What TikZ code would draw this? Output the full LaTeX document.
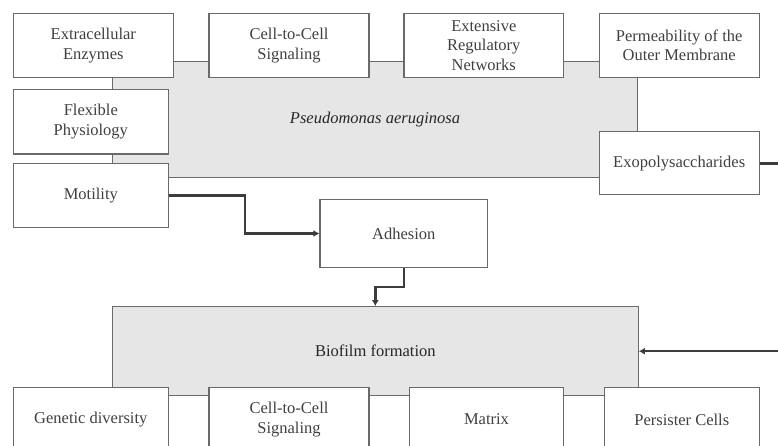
\documentclass[tikz,border=0pt]{standalone}
\usepackage{fontspec}
\setmainfont{Liberation Serif}
\usetikzlibrary{arrows.meta,calc}
\definecolor{bordc}{HTML}{6A6A6A}
\definecolor{txtc}{HTML}{404040}
\definecolor{fillg}{HTML}{E6E6E6}
\definecolor{arrc}{HTML}{3C3C3C}
\begin{document}
\begin{tikzpicture}[x=1pt,y=-1pt,
  box/.style={draw=bordc, line width=1.1pt, fill=white, text=txtc, align=center,
    font=\fontsize{16.5}{19.5}\selectfont, inner sep=0pt, minimum height=64.4pt},
  gbox/.style={draw=bordc, line width=1.1pt, fill=fillg, inner sep=0pt, text=black!85,
    font=\fontsize{16.5}{19.5}\selectfont},
  arr/.style={draw=arrc, line width=2.5pt, -{Latex[length=6pt,width=7pt]}},
  link/.style={draw=arrc, line width=2.5pt},
]
\useasboundingbox (0,0) rectangle (778,446);
\clip (0,0) rectangle (778,446);
\fill[white] (0,0) rectangle (778,446);

% grey background boxes
\node[gbox, minimum width=525.4pt, minimum height=116pt] (pa) at (375,119.7) {\itshape Pseudomonas aeruginosa};
\node[gbox, minimum width=526pt, minimum height=89pt] (bio) at (375.3,351.2) {Biofilm formation};

% top row
\node[box, minimum width=160pt] (ext) at (93.3,45.5) {Extracellular\\Enzymes};
\node[box, minimum width=160pt] (cc) at (289,45.5) {Cell-to-Cell\\Signaling};
\node[box, minimum width=159.7pt] (reg) at (483.8,45.5) {Extensive\\Regulatory\\Networks};
\node[box, minimum width=160.3pt] (perm) at (679.2,45.5) {Permeability of the\\Outer Membrane};

% left column
\node[box, minimum width=155pt, minimum height=64.7pt] (flex) at (90.8,121.7) {Flexible\\Physiology};
\node[box, minimum width=155pt] (mot) at (90.8,195.5) {Motility};

% right
\node[box, minimum width=160.3pt, minimum height=63.3pt] (exo) at (679.2,163.3) {Exopolysaccharides};

% adhesion
\node[box, minimum width=167.7pt, minimum height=68.4pt] (adh) at (403.8,233.5) {Adhesion};

% bottom row
\node[box, minimum width=155pt] (gen) at (90.8,419.5) {Genetic diversity};
\node[box, minimum width=160pt] (cc2) at (289,419.5) {Cell-to-Cell\\Signaling};
\node[box, minimum width=154.4pt] (mat) at (486.5,419.5) {Matrix};
\node[box, minimum width=155pt] (pers) at (681.8,419.5) {Persister Cells};

% connectors
\draw[arr] (mot.east) -- ++(76,0) |- (adh.west);
\draw[arr] (adh.south) |- ($(bio.north)+(0,-19.4)$) -- (bio.north);
\draw[arr] (exo.east) -- ++(40,0) |- (bio.east);
\end{tikzpicture}
\end{document}
